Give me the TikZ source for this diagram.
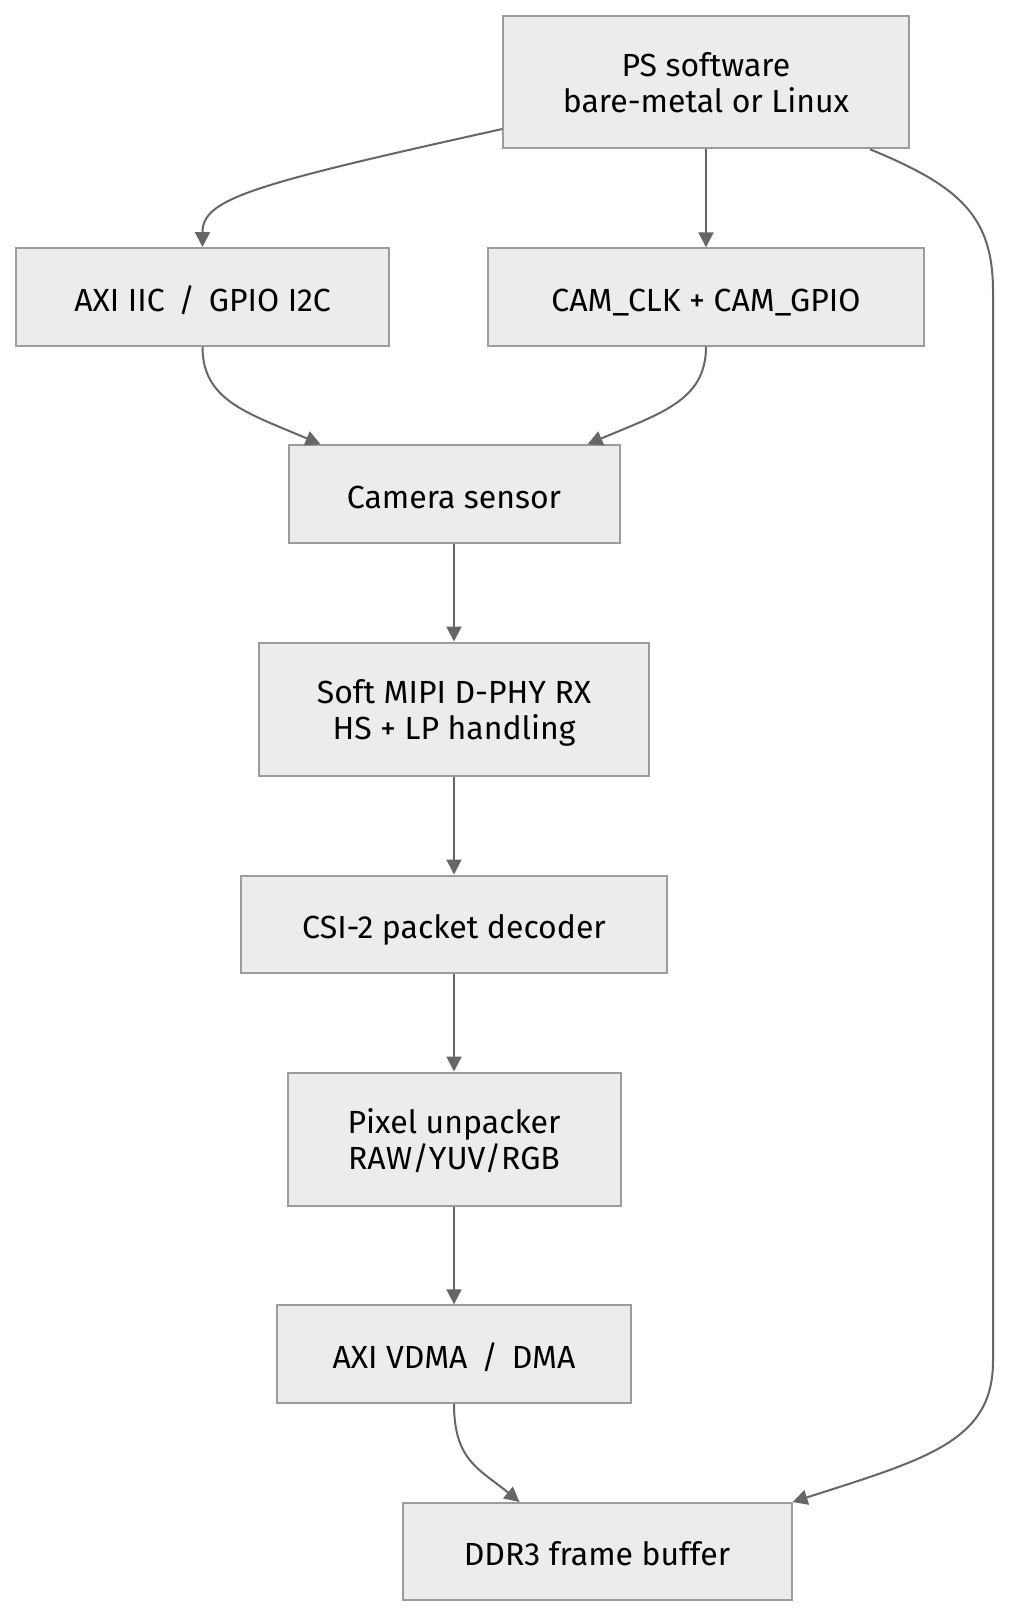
\documentclass[tikz,border=0pt]{standalone}
\usepackage{fontspec}
\setmainfont{Fira Sans}
\usetikzlibrary{arrows.meta}
\definecolor{boxfill}{HTML}{ECECEC}
\definecolor{boxline}{HTML}{9C9C9C}
\definecolor{edgeline}{HTML}{666666}

\begin{document}
\begin{tikzpicture}[x=0.5pt,y=-0.5pt,
    blk/.style={draw=boxline,fill=boxfill,line width=1pt,align=center,
      inner sep=0pt,text depth=0pt,font=\fontsize{16}{18}\selectfont,
      execute at begin node={\rule{0pt}{14pt}}},
    flow/.style={draw=edgeline,line width=1pt,
      -{Triangle[length=7.5pt,width=7.5pt]}}]
    \useasboundingbox (0,0) rectangle (1010,1617);

    % Software and control side
    \node[blk,minimum width=202.7pt,minimum height=66.3pt] (ps) at (706,82)
      {PS software\\bare-metal or Linux};
    \node[blk,minimum width=186.5pt,minimum height=49pt] (iic) at (202.5,297)
      {AXI IIC \,/\, GPIO I2C};
    \node[blk,minimum width=217.9pt,minimum height=48.7pt] (camio) at (706,297)
      {CAM\_CLK + CAM\_GPIO};

    % Capture pipeline
    \node[blk,minimum width=165.5pt,minimum height=48.7pt] (sensor) at (454,494)
      {Camera sensor};
    \node[blk,minimum width=195pt,minimum height=66.5pt] (dphy) at (454,709)
      {Soft MIPI D-PHY RX\\HS + LP handling};
    \node[blk,minimum width=212.7pt,minimum height=48.5pt] (csi) at (454,924)
      {CSI-2 packet decoder};
    \node[blk,minimum width=166.5pt,minimum height=66.5pt] (unpack) at (454,1139)
      {Pixel unpacker\\RAW/YUV/RGB};
    \node[blk,minimum width=176.9pt,minimum height=48.7pt] (vdma) at (454,1354)
      {AXI VDMA \,/\, DMA};
    \node[blk,minimum width=194.5pt,minimum height=48.5pt] (ddr) at (597,1551.5)
      {DDR3 frame buffer};

    % PS fans out
    \draw[flow] ([yshift=-23.5pt]ps.west)
      .. controls +(-253,56) and +(0,-48) .. (iic.north);
    \draw[flow] (ps.south) -- (camio.north);
    \draw[flow] ([xshift=82pt]ps.south)
      .. controls +(90,37) and +(0,-75) .. ++(123,142)
      -- ++(0,1070)
      .. controls +(0,80) and +(134,-43) .. (ddr.north east);

    % Into the sensor
    \draw[flow] (iic.south)
      .. controls +(0,54) and +(-72,-31) .. ([xshift=16.5pt]sensor.north west);
    \draw[flow] (camio.south)
      .. controls +(0,54) and +(73,-31) .. ([xshift=-16.5pt]sensor.north east);

    % Straight data path
    \draw[flow] (sensor) -- (dphy);
    \draw[flow] (dphy) -- (csi);
    \draw[flow] (csi) -- (unpack);
    \draw[flow] (unpack) -- (vdma);
    \draw[flow] (vdma.south)
      .. controls +(0,57) and +(-40,-33) .. ([xshift=59pt]ddr.north west);

  \end{tikzpicture}
\end{document}
